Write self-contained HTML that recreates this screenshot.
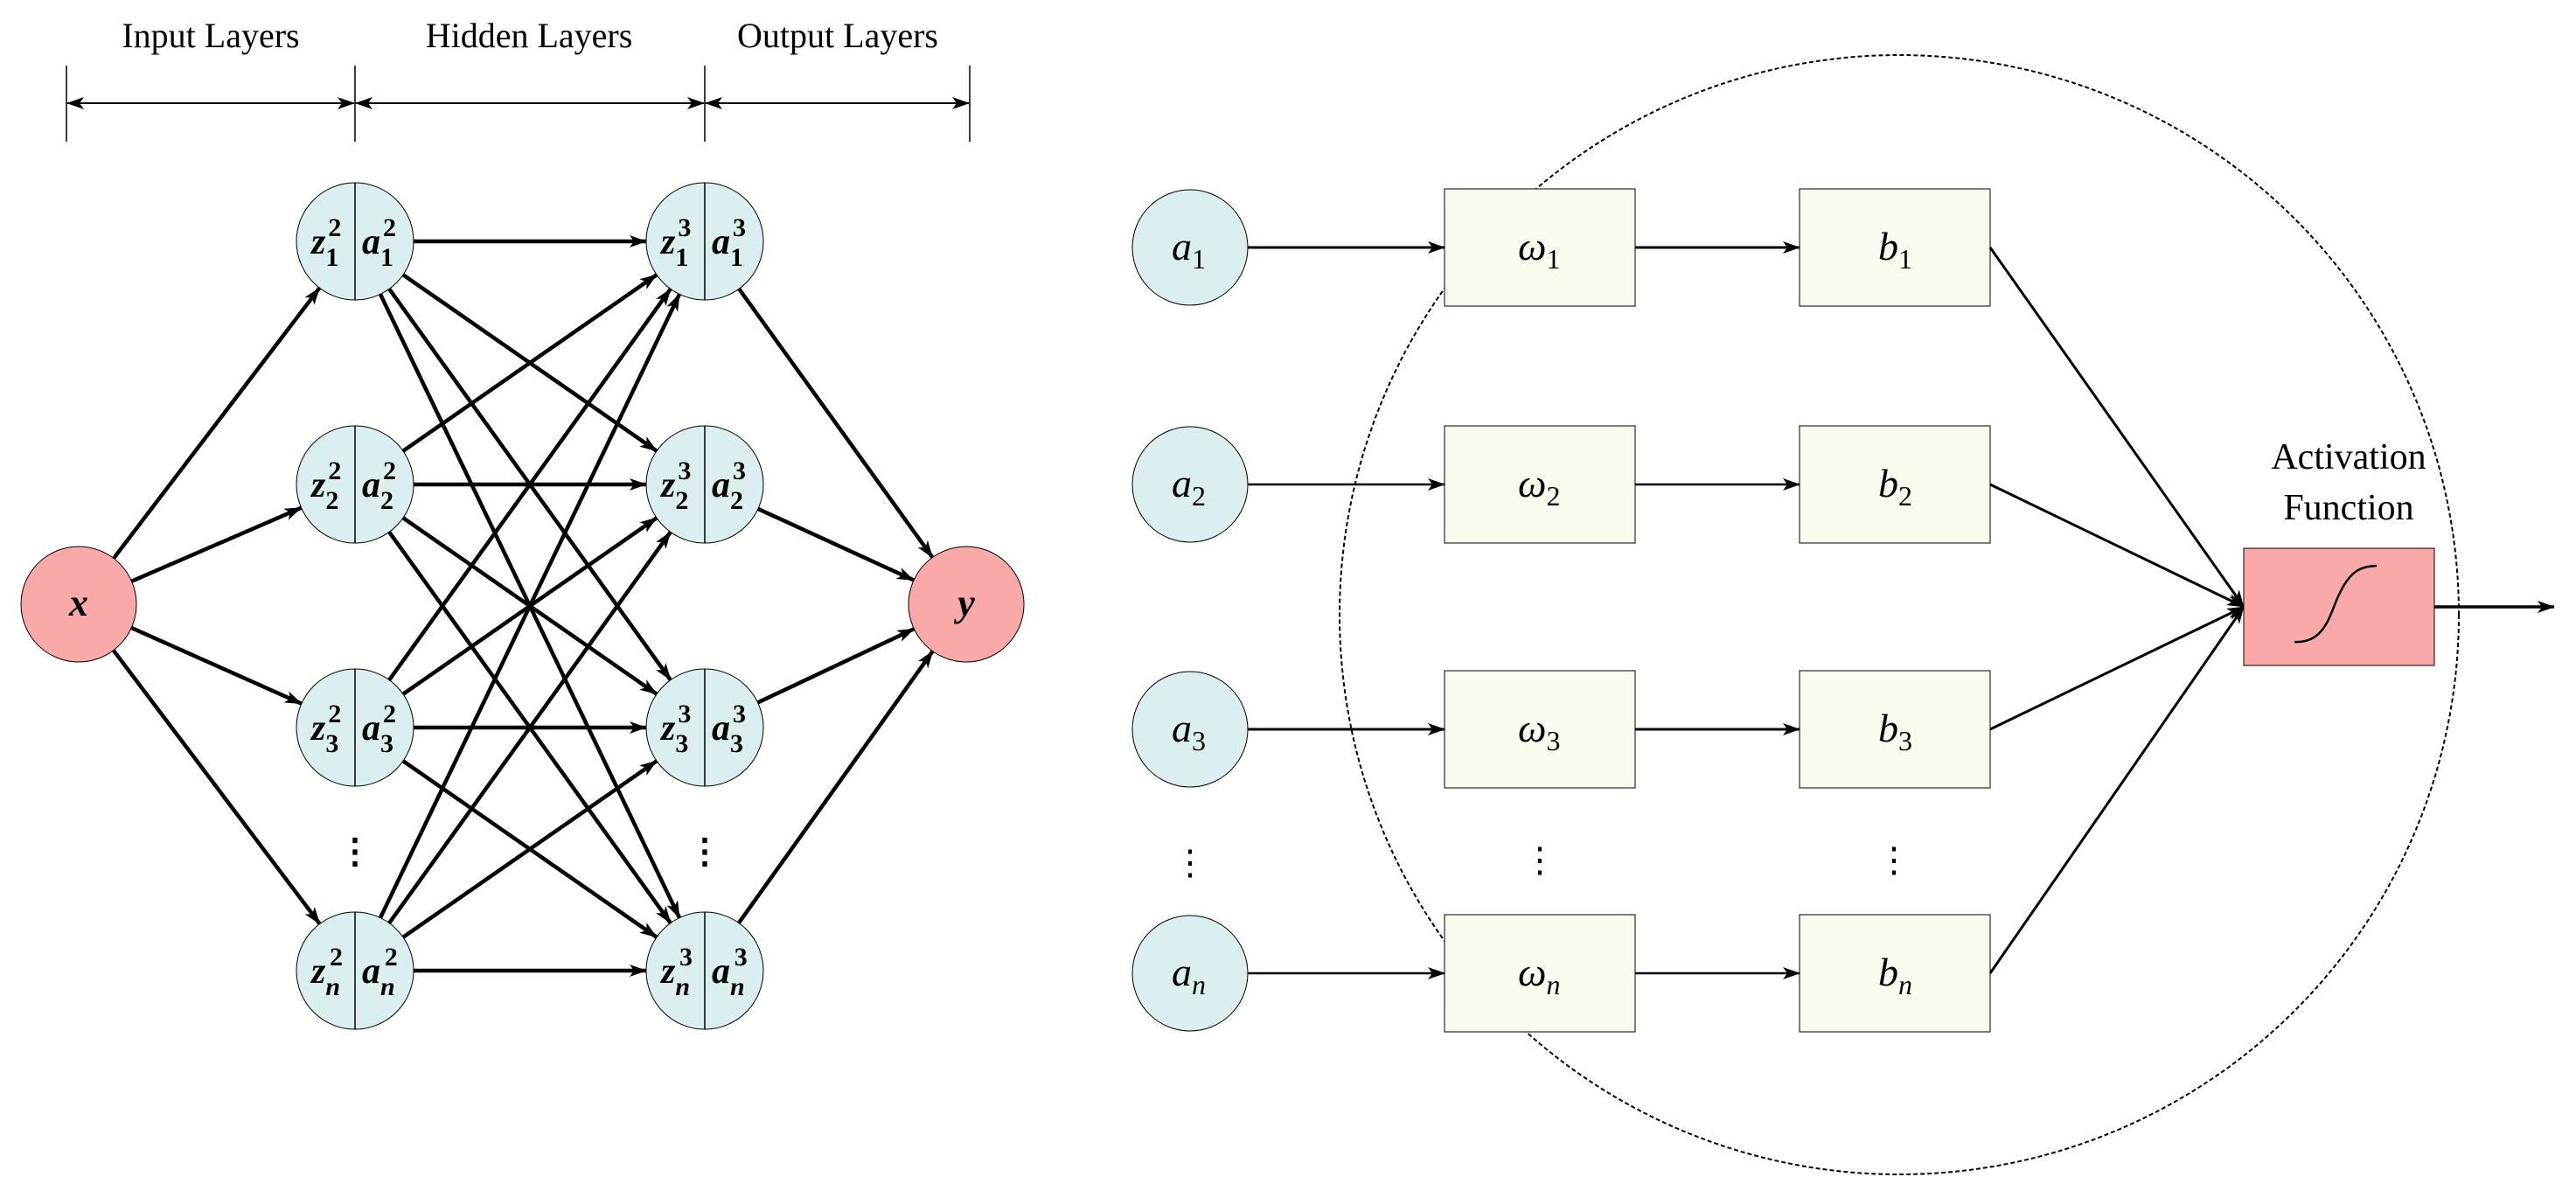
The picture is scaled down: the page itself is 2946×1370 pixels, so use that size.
<!DOCTYPE html>
<html><head><meta charset="utf-8"><style>
html,body{margin:0;padding:0;background:#fff;}
svg{display:block;}
text{font-family:"Liberation Serif","DejaVu Serif",serif;}
.m{font-style:italic;font-weight:bold;}
.r{font-style:italic;}
</style></head><body>
<svg id="s" width="2946" height="1370" viewBox="0 0 2946 1370" xmlns="http://www.w3.org/2000/svg">
<defs>
<marker id="ah" viewBox="0 0 20 14" refX="19" refY="7" markerWidth="20" markerHeight="14" markerUnits="userSpaceOnUse" orient="auto">
<path d="M0,0 L20,7 L0,14 L5,7 Z" fill="#000"/></marker>
<marker id="ahs" viewBox="0 0 20 14" refX="19" refY="7" markerWidth="20" markerHeight="14" markerUnits="userSpaceOnUse" orient="auto-start-reverse">
<path d="M0,0 L20,7 L0,14 L5,7 Z" fill="#000"/></marker>
</defs>
<g font-size="40" text-anchor="middle">
<text x="241" y="54">Input Layers</text>
<text x="605" y="54">Hidden Layers</text>
<text x="958" y="54">Output Layers</text>
</g>
<g stroke="#000" stroke-width="1.5">
<line x1="76" y1="75" x2="76" y2="162"/><line x1="406" y1="75" x2="406" y2="162"/>
<line x1="806" y1="75" x2="806" y2="162"/><line x1="1109" y1="75" x2="1109" y2="162"/>
</g>
<g stroke="#000" stroke-width="2" marker-start="url(#ahs)" marker-end="url(#ah)">
<line x1="77" y1="118" x2="405" y2="118"/><line x1="407" y1="118" x2="805" y2="118"/><line x1="807" y1="118" x2="1108" y2="118"/>
</g>
<g id="edges" stroke="#000" stroke-width="4.5" fill="none"></g>
<g id="nodes"></g>
<g font-size="40" text-anchor="middle" font-weight="bold"><text x="406" y="987">⋮</text><text x="806" y="987">⋮</text></g>

<ellipse cx="2172" cy="703" rx="640" ry="640" fill="none" stroke="#000" stroke-width="2" stroke-dasharray="5,3"/>
<g id="right"></g>
<g font-size="40" text-anchor="middle"><text x="1361" y="1000">⋮</text><text x="1761" y="997">⋮</text><text x="2166" y="997">⋮</text></g>
<g font-size="42" text-anchor="middle"><text x="2686" y="536">Activation</text><text x="2686" y="594">Function</text></g>
<rect x="2566" y="627" width="218" height="134" fill="#FAA9A9" stroke="#000" stroke-width="1"/>
<path d="M2624,734 C2660,736 2665,700 2675,680 C2688,652 2700,648 2718,647" fill="none" stroke="#000" stroke-width="2.5"/>
<line x1="2784" y1="694" x2="2921" y2="694" stroke="#000" stroke-width="3.5" marker-end="url(#ah)"/>
</svg>
<script>
var NS="http://www.w3.org/2000/svg";
function el(p,t,a,txt){var e=document.createElementNS(NS,t);for(var k in a)e.setAttribute(k,a[k]);if(txt!==undefined)e.textContent=txt;p.appendChild(e);return e;}
var E=document.getElementById('edges'),N=document.getElementById('nodes'),R=document.getElementById('right');
var r=67;
var ys=[276,554,832,1110],subs=['1','2','3','n'];
var X={x:90,y:691},Y={x:1105,y:691};
function edge(a,b,ra,rb){var dx=b.x-a.x,dy=b.y-a.y,d=Math.hypot(dx,dy);
el(E,'line',{x1:a.x+dx/d*ra,y1:a.y+dy/d*ra,x2:b.x-dx/d*rb,y2:b.y-dy/d*rb,'marker-end':'url(#ah)'});}
for(var i=0;i<4;i++){edge(X,{x:406,y:ys[i]},66,r);}
for(var i=0;i<4;i++)for(var j=0;j<4;j++)edge({x:406,y:ys[i]},{x:806,y:ys[j]},r,r);
for(var j=0;j<4;j++)edge({x:806,y:ys[j]},Y,r,66);
function pink(c,l){el(N,'circle',{cx:c.x,cy:c.y,r:66,fill:'#FAA9A9',stroke:'#000','stroke-width':1});
el(N,'text',{x:c.x,y:c.y+13,'font-size':44,'text-anchor':'middle','class':'m'},l);}
pink(X,'x');pink(Y,'y');
function hn(cx,cy,sup,sub){el(N,'circle',{cx:cx,cy:cy,r:r,fill:'#DCEFF0',stroke:'#000','stroke-width':1});
el(N,'line',{x1:cx,y1:cy-r,x2:cx,y2:cy+r,stroke:'#000','stroke-width':1.5});
var fs=(sub=='n')?'italic':'normal';
var t=el(N,'text',{x:cx-50,y:cy+14,'font-size':42,'class':'m'});
t.innerHTML='z<tspan font-size="30" dy="14" font-style="'+fs+'">'+sub+'</tspan><tspan font-size="30" dx="-12" dy="-34" font-style="normal">'+sup+'</tspan>';
var t2=el(N,'text',{x:cx+8,y:cy+14,'font-size':42,'class':'m'});
t2.innerHTML='a<tspan font-size="30" dy="14" font-style="'+fs+'">'+sub+'</tspan><tspan font-size="30" dx="-12" dy="-34" font-style="normal">'+sup+'</tspan>';}
for(var i=0;i<4;i++){hn(406,ys[i],'2',subs[i]);hn(806,ys[i],'3',subs[i]);}
var ry=[283,554,834,1113];
for(var i=0;i<4;i++){var y=ry[i],s=subs[i];
el(R,'circle',{cx:1361,cy:y,r:66,fill:'#DCEFF0',stroke:'#000','stroke-width':1});
var t=el(R,'text',{x:1340,y:y+14,'font-size':46,'class':'r'});t.innerHTML='a<tspan font-size="32" dy="10" font-style="'+(s=='n'?'italic':'normal')+'">'+s+'</tspan>';
el(R,'rect',{x:1652,y:y-67,width:218,height:134,fill:'#F9FBEF',stroke:'#000','stroke-width':1});
el(R,'rect',{x:2058,y:y-67,width:218,height:134,fill:'#F9FBEF',stroke:'#000','stroke-width':1});
var t=el(R,'text',{x:1736,y:y+14,'font-size':46,'class':'r'});t.innerHTML='ω<tspan font-size="32" dy="10" font-style="'+(s=='n'?'italic':'normal')+'">'+s+'</tspan>';
var t=el(R,'text',{x:2148,y:y+14,'font-size':46,'class':'r'});t.innerHTML='b<tspan font-size="32" dy="10" font-style="'+(s=='n'?'italic':'normal')+'">'+s+'</tspan>';
var sw=(i==0||i==2)?3:2.5;
el(R,'line',{x1:1427,y1:y,x2:1652,y2:y,stroke:'#000','stroke-width':sw,'marker-end':'url(#ah)'});
el(R,'line',{x1:1870,y1:y,x2:2058,y2:y,stroke:'#000','stroke-width':sw,'marker-end':'url(#ah)'});
el(R,'line',{x1:2276,y1:y,x2:2566,y2:694,stroke:'#000','stroke-width':3,'marker-end':'url(#ah)'});
}
</script>
</body></html>
